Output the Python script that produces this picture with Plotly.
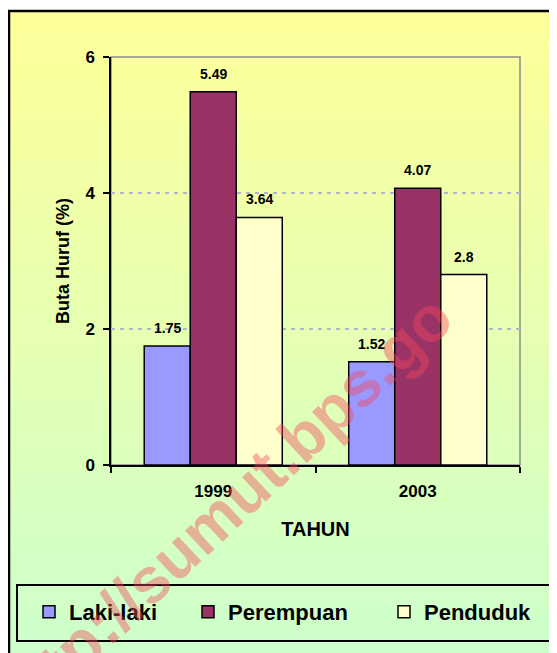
import plotly.graph_objects as go

# ---- data ----
years = ["1999", "2003"]
laki = [1.75, 1.52]
perempuan = [5.49, 4.07]
penduduk = [3.64, 2.8]
series_names = ["Laki-laki", "Perempuan", "Penduduk"]
series_colors = ["#9999FF", "#993366", "#FFFFCC"]
y_ticks = [0, 2, 4, 6]

# page has an 8px body margin; figure is sized to fit the 557x653 window
OFF = 8
W, H = 557 - OFF, 653 - OFF
ML, MR, MT, MB = 111 - OFF, 37, 57 - OFF, 188
PW, PH = W - ML - MR, H - MT - MB
BARGAP = 0.325


def px_x(p):  # reference page pixel -> paper x
    return (p - OFF - ML) / PW


def px_y(p):  # reference page pixel -> paper y
    return (H - MB - (p - OFF)) / PH


FONT = 'Arial, "Liberation Sans", sans-serif'
legend_widths = [114, 151, 110]

fig = go.Figure()
all_vals = [laki, perempuan, penduduk]
for name, vals, col, lw in zip(series_names, all_vals, series_colors, legend_widths):
    fig.add_trace(go.Bar(
        name=name, x=years, y=vals,
        marker=dict(color=col, line=dict(color="black", width=1.5)),
        legendwidth=lw,
    ))

# value labels placed at each bar top via the axis scales (category index on x)
bar_px = PW / len(years) * (1 - BARGAP) / len(series_names)
annotations = []
for i, vals in enumerate(all_vals):
    for j, v in enumerate(vals):
        annotations.append(dict(
            x=j, y=v, xref="x", yref="y", text="<b>%s</b>" % v, showarrow=False,
            xanchor="center", yanchor="bottom", yshift=8,
            xshift=(i - (len(series_names) - 1) / 2) * bar_px,
            font=dict(family=FONT, size=14, color="black"),
        ))

annotations.append(dict(
    text="<b>http://sumut.bps.go</b>", xref="paper", yref="paper",
    x=px_x(223), y=px_y(511), xanchor="center", yanchor="middle",
    textangle=-43, showarrow=False,
    font=dict(family=FONT, size=64, color="rgba(245,70,90,0.42)"),
))

shapes = []
# gradient background stripes
top, bot = 10, 660
n = 70
c0 = (255, 255, 153)
c1 = (204, 255, 204)
for i in range(n):
    y0 = top + (bot - top) * i / n
    y1 = top + (bot - top) * (i + 1) / n + 0.6
    t = (i + 0.5) / n
    c = tuple(round(a + (b - a) * t) for a, b in zip(c0, c1))
    shapes.append(dict(type="rect", xref="paper", yref="paper", layer="below",
                       x0=px_x(8), x1=px_x(600), y0=px_y(y0), y1=px_y(y1),
                       line=dict(width=0), fillcolor="rgb(%d,%d,%d)" % c))
# outer border
shapes.append(dict(type="rect", xref="paper", yref="paper", layer="above",
                   x0=px_x(9), x1=px_x(620), y0=px_y(11), y1=px_y(720),
                   line=dict(color="black", width=2.5), fillcolor="rgba(0,0,0,0)"))
# plot area frame (grey)
shapes.append(dict(type="rect", xref="paper", yref="paper", layer="below",
                   x0=0, x1=1, y0=0, y1=1,
                   line=dict(color="#8c8c8c", width=1.5), fillcolor="rgba(0,0,0,0)"))
# legend frame
shapes.append(dict(type="rect", xref="paper", yref="paper", layer="above",
                   x0=px_x(17), x1=px_x(550), y0=px_y(585), y1=px_y(641),
                   line=dict(color="black", width=2), fillcolor="rgba(0,0,0,0)"))

fig.update_layout(
    width=W, height=H,
    margin=dict(l=ML, r=MR, t=MT, b=MB, autoexpand=False),
    paper_bgcolor="white",
    plot_bgcolor="rgba(0,0,0,0)",
    barmode="group", bargap=BARGAP, bargroupgap=0,
    font=dict(family=FONT, color="black"),
    shapes=shapes,
    annotations=annotations,
    showlegend=True,
    legend=dict(
        orientation="h", x=px_x(29), xanchor="left", y=px_y(612), yanchor="middle",
        bgcolor="rgba(0,0,0,0)", borderwidth=0,
        font=dict(family=FONT, size=22, color="black", weight="bold"),
    ),
    xaxis=dict(
        type="category", range=[-0.5, len(years) - 0.5],
        showgrid=False, showline=True, linecolor="black", linewidth=1.5,
        ticks="outside", tickson="boundaries", ticklen=6, tickwidth=1.5, tickcolor="black",
        tickfont=dict(family=FONT, size=17, weight="bold"), ticklabelstandoff=10,
        title=dict(text="<b>TAHUN</b>", font=dict(family=FONT, size=20), standoff=22),
        automargin=False,
    ),
    yaxis=dict(
        range=[0, 6], tickvals=y_ticks, showline=True, linecolor="black", linewidth=1.5,
        ticks="outside", ticklen=6, tickwidth=1.5, tickcolor="black",
        tickfont=dict(family=FONT, size=17, weight="bold"), ticklabelstandoff=5,
        showgrid=True, gridcolor="#b4b4cc", griddash="4px,5px", gridwidth=2,
        zeroline=False,
        title=dict(text="<b>Buta Huruf (%)</b>", font=dict(family=FONT, size=18), standoff=11),
        automargin=False,
    ),
)

fig.write_html("out.html")
